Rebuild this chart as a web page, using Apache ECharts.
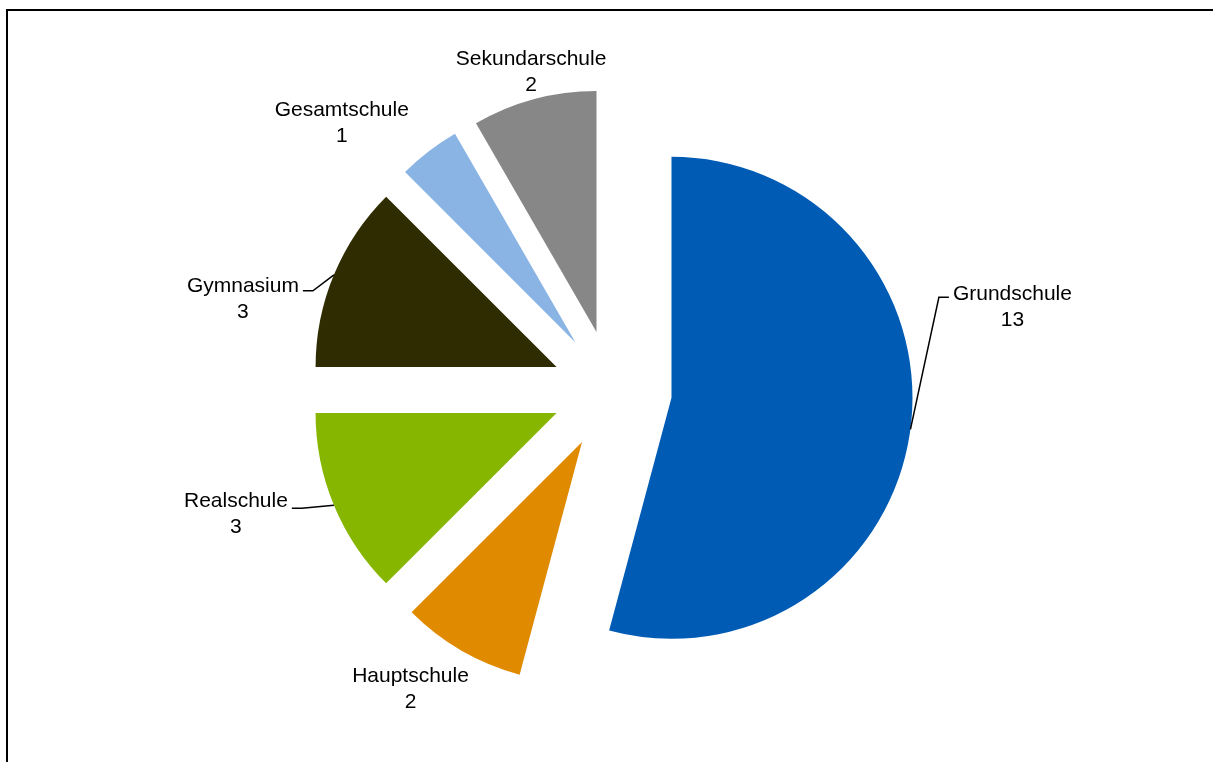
<!DOCTYPE html>
<html>
<head>
<meta charset="utf-8">
<script src="https://cdn.jsdelivr.net/npm/echarts@6/dist/echarts.min.js"></script>
<style>
  html, body { margin: 0; padding: 0; background: #fff; }
  #chart { width: 1213px; height: 762px; }
</style>
</head>
<body>
<div id="chart"></div>
<script>
// Schools by type
const categories = ['Grundschule', 'Hauptschule', 'Realschule', 'Gymnasium', 'Gesamtschule', 'Sekundarschule'];
const values = [13, 2, 3, 3, 1, 2];
const palette = ['#005BB5', '#E08A00', '#86B600', '#2E2C00', '#8AB4E4', '#878787'];

// Pie geometry
const CX = 612, CY = 390, R = 241, EXPLODE = 60;
// Label placement relative to each slice's outer mid-arc point,
// and whether a leader line is drawn (side: 1 = label right of the line end, -1 = left;
// lineDy: height of the horizontal leader segment relative to the label centre)
const labelShift = [
  { dx: 102, dy: -122, line: true, side: 1, lineDy: -10 },
  { dx: -51, dy: 39, line: false },
  { dx: -98, dy: 9, line: true, side: -1, lineDy: -6 },
  { dx: -91, dy: 24, line: true, side: -1, lineDy: -8 },
  { dx: -87, dy: -28, line: false },
  { dx: -3, dy: -27, line: false }
];

const total = values.reduce((a, b) => a + b, 0);
// Outer mid-arc point of every exploded slice
const arcPoints = (() => {
  let cum = 0;
  return values.map(v => {
    const mid = (cum + v / 2) / total * 2 * Math.PI;
    cum += v;
    const d = R + EXPLODE;
    return [CX + d * Math.sin(mid), CY - d * Math.cos(mid)];
  });
})();

const chart = echarts.init(document.getElementById('chart'), null, { renderer: 'canvas' });

// Exploded slices
const sliceData = categories.map((name, i) => ({
  name: name,
  value: values[i],
  selected: true,
  itemStyle: { color: palette[i] }
}));

// Same values, invisible sectors: carries the data labels and leader lines
const labelData = categories.map((name, i) => ({
  name: name,
  value: values[i],
  labelLine: { show: labelShift[i].line }
}));

chart.setOption({
  animation: false,
  backgroundColor: '#fff',
  graphic: [{
    type: 'rect',
    shape: { x: 7, y: 10, width: 1300, height: 900 },
    style: { fill: 'none', stroke: '#000', lineWidth: 2 },
    silent: true
  }],
  series: [{
    type: 'pie',
    center: [CX, CY],
    radius: R,
    startAngle: 90,
    clockwise: true,
    selectedMode: 'multiple',
    selectedOffset: EXPLODE,
    data: sliceData,
    label: { show: false },
    labelLine: { show: false },
    emphasis: { disabled: true }
  }, {
    type: 'pie',
    center: [CX, CY],
    radius: R,
    startAngle: 90,
    clockwise: true,
    silent: true,
    z: 3,
    avoidLabelOverlap: false,
    data: labelData,
    itemStyle: { color: 'rgba(0,0,0,0)', borderWidth: 0 },
    label: {
      show: true,
      position: 'outside',
      formatter: '{n|{b}}\n{n|{c}}',
      rich: {
        n: { fontSize: 21, lineHeight: 26, color: '#000', align: 'center',
             fontFamily: '"Liberation Sans", Arial, sans-serif' }
      }
    },
    labelLine: {
      show: true,
      length: 20,
      length2: 10,
      lineStyle: { color: '#000', width: 1.5 }
    },
    labelLayout: function (params) {
      const i = params.dataIndex;
      const s = labelShift[i];
      const p = arcPoints[i];
      const x = p[0] + s.dx;
      const y = p[1] + s.dy;
      const w = params.labelRect.width;
      const out = { x: x, y: y, align: 'center', verticalAlign: 'middle' };
      if (s.line) {
        const edge = x - s.side * w / 2;
        const ly = y + s.lineDy;
        out.labelLinePoints = [
          [p[0], p[1]],
          [edge - s.side * 14, ly],
          [edge - s.side * 4, ly]
        ];
      }
      return out;
    },
    emphasis: { disabled: true }
  }]
});
</script>
</body>
</html>
